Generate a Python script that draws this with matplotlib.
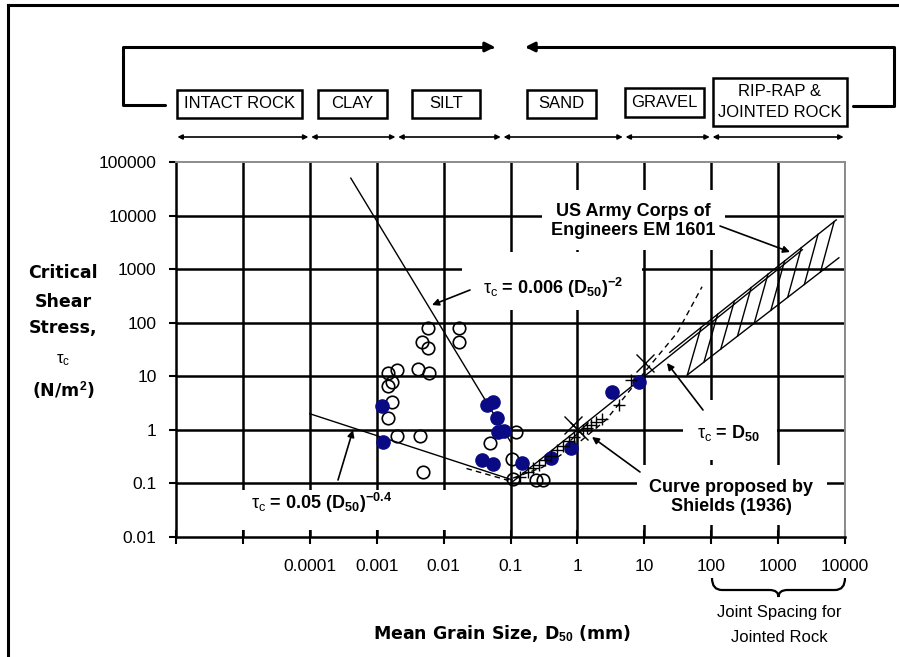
import numpy as np
import matplotlib.pyplot as plt
from matplotlib.patches import Rectangle, FancyArrowPatch, PathPatch
from matplotlib.path import Path
from matplotlib.lines import Line2D
from matplotlib.transforms import blended_transform_factory
from matplotlib.ticker import NullLocator

plt.rcParams['font.family'] = ['Liberation Sans', 'DejaVu Sans']
plt.rcParams['mathtext.fontset'] = 'custom'
plt.rcParams['mathtext.rm'] = 'Liberation Sans'
plt.rcParams['mathtext.it'] = 'Liberation Sans'
plt.rcParams['mathtext.bf'] = 'Liberation Sans:bold'

W, H = 899, 657

# ---- data (D50 in mm, tau_c in N/m2) ----
open_d = [0.0058, 0.0168, 0.0047, 0.0058, 0.0168, 0.0020, 0.0042, 0.0060, 0.0015,
          0.0017, 0.0015, 0.0017, 0.0015, 0.0020, 0.0044, 0.0049,
          0.119, 0.049, 0.107, 0.11, 0.24, 0.31]
open_tau = [80, 80, 44, 34, 44, 13.2, 13.7, 11.6, 11.6,
            7.9, 6.6, 3.3, 1.67, 0.77, 0.77, 0.164,
            0.92, 0.57, 0.29, 0.12, 0.115, 0.115]

filled_d = [0.00119, 0.00123, 0.045, 0.054, 0.062, 0.064, 0.081, 0.038, 0.054,
            0.151, 0.41, 0.81, 3.3, 8.4]
filled_tau = [2.8, 0.60, 2.9, 3.3, 1.67, 0.92, 0.96, 0.275, 0.232,
              0.242, 0.30, 0.46, 5.1, 7.9]

cross_d = [0.85, 1.05, 10.4]
cross_tau = [1.25, 0.95, 17.8]

plus_d = [0.14, 0.18, 0.22, 0.27, 0.33, 0.4, 0.5, 0.6, 0.75, 0.9, 1.2, 1.4,
          1.6, 1.9, 2.3, 4.2, 6.4]
plus_tau = [0.13, 0.16, 0.19, 0.22, 0.27, 0.33, 0.42, 0.5, 0.62, 0.75, 1.0, 1.1,
            1.25, 1.4, 1.6, 2.9, 8.6]

line006_d = [4.1e-4, 0.1]
line006_tau = [5.0e4, 0.6]
line005_d = [1e-4, 0.105]
line005_tau = [2.0, 0.117]
taud_d = [0.1, 2300]
taud_tau = [0.1, 2300]
shields_d = [0.022, 0.09, 0.3, 1.0, 2.7, 10, 31, 73]
shields_tau = [0.19, 0.115, 0.2, 0.55, 1.55, 11.8, 65, 470]

band_up_d = [24, 7400]
band_up_tau = [28, 8300]
band_lo_d = [44, 8100]
band_lo_tau = [10.6, 1630]
hatch_d = [44, 78, 139, 247, 440, 780, 1390, 2470, 4300]

class_edges = [1e-6, 1e-4, 0.002, 0.075, 5, 100, 1e4]

xtick_vals = [1e-6, 1e-5, 1e-4, 1e-3, 1e-2, 0.1, 1, 10, 100, 1000, 10000]
xtick_labels = ['', '', '0.0001', '0.001', '0.01', '0.1', '1', '10', '100', '1000', '10000']
ytick_vals = [0.01, 0.1, 1, 10, 100, 1000, 10000, 100000]
ytick_labels = ['0.01', '0.1', '1', '10', '100', '1000', '10000', '100000']


def F(x, y):
    # image pixel -> figure fraction
    return (x / W, 1 - y / H)


fig = plt.figure(figsize=(W / 100, H / 100), dpi=100)
ax = fig.add_axes([176 / W, 1 - 537 / H, (845 - 176) / W, (537 - 162) / H])
ax.set_xscale('log')
ax.set_yscale('log')
ax.set_xlim(1e-6, 1e4)
ax.set_ylim(0.01, 1e5)

for v in xtick_vals[1:]:
    ax.axvline(v, color='k', lw=1.8, zorder=1)
for v in ytick_vals[1:-1]:
    ax.axhline(v, color='k', lw=1.8, zorder=1)

for s in ['left', 'bottom']:
    ax.spines[s].set_linewidth(1.8)
for s in ['top', 'right']:
    ax.spines[s].set_color('#8c8c8c')
    ax.spines[s].set_linewidth(1.4)

ax.set_xticks(xtick_vals, xtick_labels)
ax.set_yticks(ytick_vals, ytick_labels)
ax.xaxis.set_minor_locator(NullLocator())
ax.yaxis.set_minor_locator(NullLocator())
ax.tick_params(axis='x', direction='inout', length=10, width=1.5, pad=11, labelsize=12.5)
ax.tick_params(axis='y', direction='out', length=5, width=1.5, pad=9, labelsize=12.5)

# white boxes behind labels (they cut the grid)
for x0, y0, x1, y1 in [(462, 252, 642, 310), (198, 490, 447, 530), (542, 190, 725, 250),
                       (683, 400, 777, 460), (637, 465, 827, 525)]:
    ax.add_patch(Rectangle(F(x0, y1), (x1 - x0) / W, (y1 - y0) / H, transform=fig.transFigure,
                           facecolor='white', edgecolor='none', zorder=2, clip_on=False))

# lines
ax.plot(line006_d, line006_tau, color='k', lw=1.0, zorder=3)
ax.plot(line005_d, line005_tau, color='k', lw=1.0, zorder=3)
ax.plot(taud_d, taud_tau, color='k', lw=1.0, zorder=3)
ax.plot(shields_d, shields_tau, color='k', lw=1.0, ls=(0, (4, 3)), zorder=3)
ax.plot(band_up_d, band_up_tau, color='k', lw=1.0, zorder=3)
ax.plot(band_lo_d, band_lo_tau, color='k', lw=1.0, zorder=3)
lu_d, lu_t = np.log10(band_up_d), np.log10(band_up_tau)
ll_d, ll_t = np.log10(band_lo_d), np.log10(band_lo_tau)
for d in hatch_d:
    top = d * 1.6
    tb = 10 ** np.interp(np.log10(d), ll_d, ll_t)
    tt = 10 ** np.interp(np.log10(top), lu_d, lu_t)
    ax.plot([d, top], [tb, tt], color='k', lw=1.0, zorder=3)

# markers
ax.plot(open_d, open_tau, 'o', mfc='none', mec='k', ms=9, mew=1.2, zorder=4)
ax.plot(filled_d, filled_tau, 'o', mfc='#0a0a85', mec='#0a0a85', ms=9.5, zorder=4)
ax.plot(cross_d, cross_tau, 'x', color='k', ms=13, mew=1.0, zorder=4)
ax.plot(plus_d, plus_tau, '+', color='k', ms=9, mew=1.0, zorder=4)

# labels with arrows
bold = dict(fontsize=13, fontweight='bold', ha='center', va='center', zorder=5,
            transform=fig.transFigure)
ax.text(*F(553, 288), r'$\tau_c$ = 0.006 (D$_\mathbf{50}$)$^\mathbf{-2}$', **bold)
ax.text(*F(322, 503), r'$\tau_c$ = 0.05 (D$_\mathbf{50}$)$^\mathbf{-0.4}$', **bold)
ax.text(*F(633, 221), 'US Army Corps of\nEngineers EM 1601', linespacing=1.2, **bold)
ax.text(*F(729, 433), r'$\tau_c$ = D$_\mathbf{50}$', **bold)
ax.text(*F(731, 497), 'Curve proposed by\nShields (1936)', linespacing=1.2, **bold)

for tail, tip in [((470, 290), (432, 305)), ((338, 480), (353, 430)),
                  ((720, 226), (790, 252)), ((703, 410), (667, 363)),
                  ((640, 472), (592, 437))]:
    ax.annotate('', xy=F(*tip), xycoords='figure fraction', xytext=F(*tail),
                textcoords='figure fraction', annotation_clip=False, zorder=5,
                arrowprops=dict(arrowstyle='-|>', lw=1.2, color='k', mutation_scale=10,
                                shrinkA=0, shrinkB=0))

# axis titles
ylab = dict(fontsize=12.5, fontweight='bold', family='DejaVu Sans', ha='center', va='center')
fig.text(*F(63, 273), 'Critical', **ylab)
fig.text(*F(63, 302), 'Shear', **ylab)
fig.text(*F(63, 328), 'Stress,', **ylab)
fig.text(*F(63, 360), r'$\tau_c$', fontsize=12, ha='center', va='center')
fig.text(*F(63, 390), r'(N/m$^\mathbf{2}$)', **ylab)
fig.text(*F(502, 633), r'Mean Grain Size, D$_\mathbf{50}$ (mm)', **ylab)
fig.text(*F(779, 612), 'Joint Spacing for', fontsize=12, ha='center', va='center')
fig.text(*F(779, 637), 'Jointed Rock', fontsize=12, ha='center', va='center')

# brace under 100..10000
x0, x1, xm, yt, ym, yb = 712, 845, 778.5, 578, 590, 597
brace = [(x0, yt), (x0, ym), (x0 + 10, ym), (xm - 9, ym), (xm, ym), (xm, yb),
         (xm, ym), (xm + 9, ym), (x1 - 10, ym), (x1, ym), (x1, yt)]
codes = [Path.MOVETO, Path.CURVE3, Path.CURVE3, Path.LINETO, Path.CURVE3, Path.CURVE3,
         Path.CURVE3, Path.CURVE3, Path.LINETO, Path.CURVE3, Path.CURVE3]
fig.add_artist(PathPatch(Path([F(*p) for p in brace], codes), transform=fig.transFigure,
                         fill=False, lw=1.6, color='k'))

# outer frame
fig.add_artist(Line2D([8 / W, 1], [1 - 5 / H] * 2, color='k', lw=2.2, transform=fig.transFigure))
fig.add_artist(Line2D([8 / W] * 2, [0, 1 - 5 / H], color='k', lw=2.2, transform=fig.transFigure))

# top brackets
fig.add_artist(FancyArrowPatch(path=Path([F(165, 105), F(123, 105), F(123, 47), F(495, 47)]),
                               transform=fig.transFigure, arrowstyle='-|>', mutation_scale=14,
                               lw=2.2, color='k'))
fig.add_artist(FancyArrowPatch(path=Path([F(853, 106), F(894, 106), F(894, 47), F(525, 47)]),
                               transform=fig.transFigure, arrowstyle='-|>', mutation_scale=14,
                               lw=2.2, color='k'))

# size class boxes
boxes = [('INTACT ROCK', 177, 90, 302, 118), ('CLAY', 318, 90, 387, 118),
         ('SILT', 412, 90, 480, 118), ('SAND', 527, 90, 596, 118),
         ('GRAVEL', 625, 88, 704, 117), ('RIP-RAP &\nJOINTED ROCK', 713, 78, 847, 126)]
for name, bx0, by0, bx1, by1 in boxes:
    fig.add_artist(Rectangle(F(bx0, by1), (bx1 - bx0) / W, (by1 - by0) / H,
                             transform=fig.transFigure, facecolor='white', edgecolor='k', lw=1.8))
    fig.text(*F((bx0 + bx1) / 2, (by0 + by1) / 2), name, fontsize=12, ha='center',
             va='center', linespacing=1.5)

# size class double arrows
tr = blended_transform_factory(ax.transData, fig.transFigure)
for a, b in zip(class_edges[:-1], class_edges[1:]):
    fig.add_artist(FancyArrowPatch((a, 1 - 137 / H), (b, 1 - 137 / H), transform=tr,
                                   arrowstyle='<|-|>', mutation_scale=7, lw=1.2, color='k',
                                   shrinkA=1, shrinkB=1))

fig.savefig('out.png', dpi=100)
